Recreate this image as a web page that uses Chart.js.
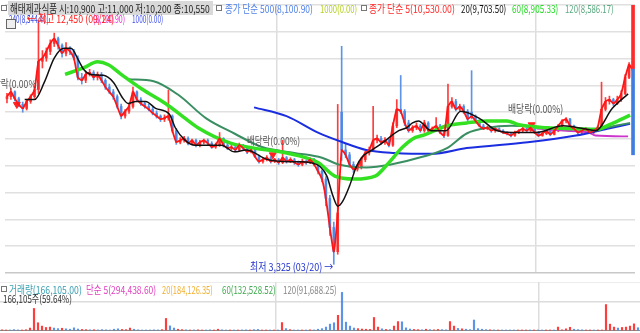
<!DOCTYPE html>
<html>
<head>
<meta charset="utf-8">
<script src="https://cdn.jsdelivr.net/npm/chart.js"></script>
<style>
  body { margin: 0; background: #fff; font-family: "Noto Sans CJK KR", "Noto Sans", sans-serif; }
  #wrap { position: relative; width: 640px; height: 333px; overflow: hidden; }
  canvas { position: absolute; left: 0; }
  .t { position: absolute; font-size: 11px; line-height: 12px; white-space: nowrap; transform-origin: 0 0; }
  .box { position: absolute; width: 4px; height: 4px; border: 1px solid #777; background: #fff; }
</style>
</head>
<body>
<div id="wrap">
  <canvas id="price" width="640" height="278" style="top:0"></canvas>
  <canvas id="vol" width="640" height="49" style="top:282px"></canvas>

  <!-- en-tête prix -->
  <div style="position:absolute;left:8px;top:1px;width:205px;height:14px;background:#d9d9d9"></div>
  <div class="box" style="left:1px;top:5px"></div>
  <div class="t" data-w="200" style="left:10px;top:2px;color:#222">해태제과식품 시:10,900 고:11,000 저:10,200 종:10,550</div>
  <div class="box" style="left:216px;top:5px"></div>
  <div class="t" data-w="88" style="left:225px;top:2px;color:#5080e8">종가 단순 500(8,100.90)</div>
  <div class="t" data-w="37" style="left:320px;top:2px;color:#b5d020">1000(0.00)</div>
  <div class="box" style="left:361px;top:5px"></div>
  <div class="t" data-w="86" style="left:369px;top:2px;color:#ff2a2a">종가 단순 5(10,530.00)</div>
  <div class="t" data-w="45" style="left:461px;top:2px;color:#111">20(9,703.50)</div>
  <div class="t" data-w="46" style="left:512px;top:2px;color:#22dd22">60(8,905.33)</div>
  <div class="t" data-w="49" style="left:565px;top:2px;color:#5aaa80">120(8,586.17)</div>

  <div class="t" data-w="40" style="left:9px;top:12px;color:#3344dd">240(8,544.40)</div>
  <div class="t" data-w="32" style="left:93px;top:12px;color:#e030d0">(8,100.90)</div>
  <div class="t" data-w="31" style="left:132px;top:12px;color:#4455ee">1000(0.00)</div>
  <div class="t" data-w="87" style="left:27px;top:12px;color:#ff2020">← 최고 12,450 (09/24)</div>
  <div style="position:absolute;left:6px;top:19px;width:8px;height:8px;border:1px solid #666;background:#eee"></div>

  <!-- annotations -->
  <div class="t" data-w="54" style="left:-15px;top:77px;color:#555">배당락(0.00%)</div>
  <div class="t" data-w="53" style="left:247px;top:134px;color:#555">배당락(0.00%)</div>
  <div class="t" data-w="55" style="left:508px;top:102px;color:#555">배당락(0.00%)</div>
  <div class="t" data-w="83" style="left:250px;top:260px;color:#2233cc">최저 3,325 (03/20) →</div>

  <!-- en-tête volume -->
  <div class="box" style="left:1px;top:286px"></div>
  <div class="t" data-w="73" style="left:9px;top:283px;color:#3aa0b0">거래량(166,105.00)</div>
  <div class="t" data-w="70" style="left:86px;top:283px;color:#e040c0">단순 5(294,438.60)</div>
  <div class="t" data-w="51" style="left:162px;top:283px;color:#f0b030">20(184,126.35)</div>
  <div class="t" data-w="54" style="left:222px;top:283px;color:#40aa50">60(132,528.52)</div>
  <div class="t" data-w="54" style="left:283px;top:283px;color:#888">120(91,688.25)</div>
  <div class="t" data-w="69" style="left:3px;top:292px;color:#333">166,105주(59.64%)</div>
</div>

<script>
// === Données (bougies) ===
const open = [
  9500,9580,9760,9500,9290,9140,9400,9580,9850,10900,
  11020,11270,11565,11745,11490,11200,11380,11270,11020,10300,
  10190,10410,10480,10300,10410,10190,9940,9760,9580,9215,
  8855,9035,9215,9760,9470,9325,9215,9110,8965,8855,
  8745,8780,8855,8310,7880,7950,8020,7840,7950,7770,
  7880,7950,7840,7700,7770,8020,7770,7660,7700,7590,
  7770,7660,7520,7590,7340,7160,7230,7300,7160,7230,
  7120,7300,7160,7230,7120,7050,7160,7120,7230,7050,
  6795,6505,5780,4700,3795,9000,7590,7410,7050,6870,
  6940,7230,7480,7590,7950,8020,7880,7950,7770,8490,
  9110,9035,8600,8310,8420,8490,8310,8600,8310,8385,
  8490,8240,8130,9215,9400,9110,9215,9035,9000,8855,
  8675,8490,8385,8420,8310,8385,8310,8240,8200,8130,
  8240,8310,8385,8310,8420,8240,8130,8200,8310,8170,
  8310,8490,8675,8745,8490,8385,8240,8310,8385,8240,
  8310,8420,9110,9400,9470,9325,9470,9690,10300,10900
];
const high = [
  9700,9900,9800,9560,9380,9480,9650,9950,12450,11300,
  11400,11700,11950,11800,11550,11600,11450,11350,11100,10450,
  10500,10600,10550,10500,10480,10250,10050,9850,9650,9300,
  9100,9300,9940,9800,9550,9400,9300,9180,9050,8900,
  8900,9830,8900,8400,8050,8100,8080,8000,8000,7950,
  8000,8000,7900,7850,8240,8050,7850,7780,7750,7850,
  7800,7700,7650,7620,7400,7300,7380,7350,7280,7280,
  7950,7350,7300,7280,7180,7250,7220,7300,7280,7100,
  6850,6600,5900,4900,9290,11460,7800,7500,7150,7050,
  7300,7550,7700,9220,8150,8100,8050,8000,8600,9470,
  10370,9100,8700,8500,8600,8550,8700,8650,8450,8800,
  8550,8300,10050,9550,9480,9300,9280,9100,10550,8900,
  8720,8550,8480,8450,8420,8420,8350,8280,8250,8300,
  8350,8450,8420,8480,8450,8280,8250,8350,8340,8350,
  8550,8720,8800,8770,8520,8420,8350,8420,8400,8350,
  8480,10120,9550,9600,9520,9600,9800,10400,10850,11000
];
const low = [
  9350,9480,9420,9200,9000,9080,9330,9520,9700,10650,
  10900,11150,11450,11350,11050,11100,11150,10950,10200,10050,
  10100,10350,10200,10200,10100,9850,9700,9480,9150,8750,
  8780,8950,9150,9400,9250,9150,9050,8900,8780,8650,
  8650,8700,8250,7800,7820,7880,7780,7800,7700,7700,
  7820,7780,7650,7650,7720,7700,7600,7600,7520,7550,
  7600,7450,7480,7300,7100,7100,7180,7100,7120,7050,
  7080,7100,7120,7050,6980,7000,7050,7080,7000,6700,
  6400,5500,4400,3325,3700,7200,7300,6950,6750,6800,
  6880,7150,7400,7550,7850,7800,7800,7700,7720,8420,
  8950,8500,8250,8250,8350,8250,8250,8250,8250,8350,
  8200,8050,8100,9150,9050,9050,8950,8680,8750,8600,
  8450,8350,8350,8250,8250,8270,8200,8150,8080,8100,
  8200,8270,8260,8280,8200,8080,8100,8160,8120,8150,
  8270,8450,8600,8450,8350,8200,8200,8280,8200,8200,
  8280,8380,9050,9300,9250,9280,9400,9650,10250,10200
];
const close = [
  9580,9760,9500,9290,9140,9400,9580,9830,10900,11020,
  11270,11565,11745,11490,11200,11380,11270,11020,10300,10190,
  10410,10480,10300,10410,10190,9940,9760,9580,9215,8855,
  9035,9215,9760,9470,9325,9215,9110,8965,8855,8745,
  8780,8855,8310,7880,7950,8020,7840,7950,7770,7880,
  7950,7840,7700,7770,8020,7770,7660,7700,7590,7770,
  7660,7520,7590,7340,7160,7230,7300,7160,7230,7120,
  7300,7160,7230,7120,7050,7160,7120,7230,7050,6795,
  6505,5780,4700,3795,5240,7590,7410,7050,6870,6940,
  7230,7480,7590,7950,8020,7880,7950,7770,8490,9110,
  9035,8600,8310,8420,8490,8310,8600,8310,8385,8490,
  8240,8130,9215,9400,9110,9215,9035,8745,8855,8675,
  8490,8385,8420,8310,8385,8310,8240,8200,8130,8240,
  8310,8385,8310,8420,8240,8130,8200,8310,8170,8310,
  8490,8675,8745,8490,8385,8240,8310,8385,8240,8310,
  8420,9110,9400,9470,9325,9470,9690,10300,10770,10550
];
const volume = [
  60000,45000,50000,70000,55000,40000,65000,150000,1150000,420000,
  250000,180000,200000,150000,120000,140000,110000,90000,160000,100000,
  80000,70000,60000,65000,55000,70000,60000,50000,90000,110000,
  80000,70000,150000,90000,60000,50000,45000,50000,60000,55000,
  70000,640000,260000,150000,90000,70000,60000,50000,55000,60000,
  50000,45000,60000,40000,90000,60000,50000,45000,40000,50000,
  55000,60000,45000,70000,80000,50000,45000,40000,50000,45000,
  430000,120000,70000,50000,45000,50000,40000,60000,55000,90000,
  120000,200000,350000,420000,800000,1970000,450000,250000,150000,120000,
  100000,90000,80000,690000,200000,110000,80000,70000,250000,480000,
  470000,160000,100000,80000,70000,60000,90000,70000,60000,80000,
  70000,60000,480000,250000,130000,110000,90000,70000,560000,120000,
  90000,70000,60000,55000,50000,45000,50000,40000,45000,50000,
  45000,50000,40000,45000,50000,40000,45000,50000,40000,200000,
  60000,110000,190000,90000,70000,60000,50000,45000,50000,45000,
  50000,1350000,350000,200000,150000,180000,200000,250000,365000,166105
];

// === Moyennes mobiles : [indice, prix] ===
const ma20 = [[4.5,9470],[7,9470],[9.5,10120],[12,11020],[14.5,11385],[16.25,11385],[18.25,10915],
  [19.5,10590],[21.25,10410],[24.5,10375],[27,10120],[29.5,9505],[30.75,9325],[32.75,9400],[35.25,9400],
  [37.75,9145],[41.25,8925],[42.75,8420],[45.25,7950],[47.75,7770],[51.25,7770],[54.5,7770],[57.75,7520],
  [60.75,7590],[66.25,7230],[72,7155],[74.5,7155],[77,7120],[79.5,6975],[81.25,6615],[82.75,5890],
  [84,5495],[85.25,5675],[87,6250],[88.75,6975],[90.25,7335],[92.75,7590],[95.25,7845],[99.5,8310],
  [101.5,8420],[103,8600],[104.5,8675],[107.75,8310],[111.5,8310],[115.25,9035],[120.25,8745],
  [124.5,8310],[130,8240],[134.25,8240],[141.25,8490],[146.5,8385],[149.5,8310],[153.75,9145],[157.75,9685]];
const ma60 = [[14.75,10410],[19.5,10660],[23,10880],[25.75,10770],[29,10410],[34.25,9865],[40.25,9325],
  [44.5,8855],[48.5,8420],[56.75,7845],[62.75,7660],[71,7480],[79,7120],[83.25,6615],[88.25,6505],
  [93.5,6615],[97,7120],[100.5,7700],[103.75,8060],[105.5,8130],[111.75,8495],[116.75,8600],[122,8675],
  [127,8675],[130,8530],[137.25,8420],[144.5,8385],[149.5,8350],[153.5,8565],[158.25,8890]];
const ma120 = [[31,10230],[37.25,10155],[43.5,9650],[50.5,8780],[57.75,8205],[64.75,7700],[73,7480],
  [80,7300],[84.25,7050],[91.25,6940],[97.5,7050],[105.5,7335],[111.75,7660],[116.75,8205],[122,8420],
  [128,8495],[137.25,8420],[144.5,8385],[150.5,8385],[154.5,8495],[158.25,8600]];
const ma500 = [[62.75,9180],[71,8855],[79,8240],[85.25,7880],[91.25,7590],[98.5,7480],[107.75,7445],
  [116.75,7660],[132.25,7880],[144.5,8130],[152.5,8385],[158.25,8565]];
const ma240 = [[134.5,8385],[141.25,8310],[147.75,8240],[149.5,8130],[157.75,8095]];

const divMarks = [[2.5,9290],[67.5,7410],[133.25,8530]];
const yearBreaks = [68.5, 134.25];
const priceTicks = [3000,4000,5000,6000,7000,8000,9000,10000,11000,12000,13000];
const volTicks = [0, 1500000, 2500000];
// barre du dernier jour (bord droit), rouge au-dessus, bleue en dessous
const lastBarRed = [10630, 13000];
const lastBarBlue = [7410, 10630];

// === Mise en forme ===
const N = close.length;
const idx = close.map((_, i) => i);
const upCol = 'rgba(255,40,40,0.9)';
const dnCol = 'rgba(75,135,230,0.9)';
const candleCol = close.map((c, i) => c >= open[i] ? upCol : dnCol);
const pts = arr => arr.map(([x, y]) => ({ x, y }));
const onlyLast = v => idx.map(i => i === N - 1 ? v : null);

function maLine(label, data, color, width) {
  return { type: 'line', label, xAxisID: 'xl', data: pts(data), borderColor: color, borderWidth: width,
    pointRadius: 0, cubicInterpolationMode: 'monotone', fill: false };
}

const breakAxis = () => ({
  type: 'linear', min: -0.5, max: N - 0.5, display: true, offset: false,
  grid: { color: '#dddddd', lineWidth: 1.5, drawTicks: false, offset: false },
  ticks: { display: false },
  border: { display: false },
  afterBuildTicks: ax => { ax.ticks = yearBreaks.map(v => ({ value: v })); }
});
const catAxis = () => ({ type: 'category', display: true, offset: true,
  grid: { display: false, drawTicks: false }, ticks: { display: false }, border: { display: false } });

Chart.defaults.animation = false;
Chart.defaults.devicePixelRatio = 1;

new Chart(document.getElementById('price'), {
  type: 'bar',
  data: {
    labels: idx,
    datasets: [
      { label: 'lastRed', data: onlyLast(lastBarRed), backgroundColor: '#ff2a2a', barThickness: 3, grouped: false },
      { label: 'lastBlue', data: onlyLast(lastBarBlue), backgroundColor: '#3f7ee0', barThickness: 3, grouped: false },
      maLine('20', ma20, '#111111', 1.5),
      { type: 'line', label: '5', data: close, borderColor: '#ff1515', borderWidth: 1.8, pointRadius: 0, tension: 0.15 },
      maLine('60', ma60, '#33e022', 3.5),
      maLine('120', ma120, '#3a8f62', 2),
      maLine('500', ma500, '#1a2ee0', 2),
      maLine('240', ma240, '#cc33cc', 1.8),
      { type: 'line', label: 'div', xAxisID: 'xl', data: pts(divMarks), showLine: false,
        pointStyle: 'triangle', rotation: 180, pointRadius: 4, backgroundColor: '#ff2020', borderColor: '#ff2020' },
      { label: 'body', data: open.map((o, i) => [o, close[i]]), backgroundColor: candleCol, barThickness: 2, grouped: false },
      { label: 'wick', data: low.map((l, i) => [l, high[i]]), backgroundColor: candleCol, barThickness: 1, grouped: false }
    ]
  },
  options: {
    responsive: false,
    layout: { padding: 0 },
    plugins: { legend: { display: false }, tooltip: { enabled: false } },
    scales: {
      x: catAxis(),
      xl: breakAxis(),
      y: {
        min: 3000, max: 13000, display: true,
        grid: { color: c => c.tick.value === 3000 ? '#c8c8c8' : '#e0e0e0', lineWidth: 1.5, drawTicks: false },
        ticks: { display: false },
        border: { display: false },
        afterBuildTicks: ax => { ax.ticks = priceTicks.map(v => ({ value: v })); }
      }
    }
  }
});

new Chart(document.getElementById('vol'), {
  type: 'bar',
  data: {
    labels: idx,
    datasets: [{ label: '거래량', data: volume, backgroundColor: candleCol, barThickness: 1.5 }]
  },
  options: {
    responsive: false,
    layout: { padding: 0 },
    plugins: { legend: { display: false }, tooltip: { enabled: false } },
    scales: {
      x: catAxis(),
      xl: breakAxis(),
      y: {
        min: 0, max: 2500000, display: true,
        grid: { color: c => c.tick.value === 0 ? '#8a8a8a' : '#dcdcdc', lineWidth: c => c.tick.value === 0 ? 2 : 1.5, drawTicks: false },
        ticks: { display: false },
        border: { display: false },
        afterBuildTicks: ax => { ax.ticks = volTicks.map(v => ({ value: v })); }
      }
    }
  }
});

// ajuster la largeur des textes (police compressée horizontalement)
document.querySelectorAll('.t').forEach(el => {
  const w = parseFloat(el.dataset.w);
  el.style.transform = `scaleX(${w / el.offsetWidth})`;
});
</script>
</body>
</html>
